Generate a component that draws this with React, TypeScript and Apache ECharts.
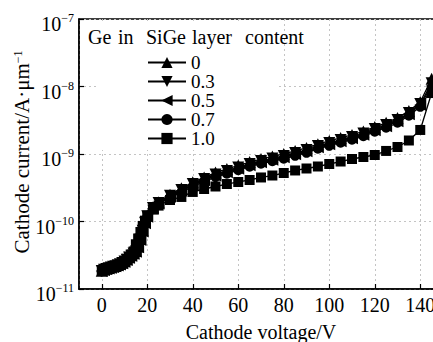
import React, { useEffect, useRef } from 'react';
import * as echarts from 'echarts';

// Cathode voltage sweep (V)
const voltage = [
  0, 1, 2, 3, 4, 5, 6, 7, 8, 9, 10, 11, 12, 13, 14, 15, 16, 17, 18, 19, 20,
  22.5, 25,
  30, 35, 40, 45, 50, 55, 60, 65, 70, 75, 80, 85, 90, 95, 100, 105, 110, 115,
  120, 125, 130, 135, 140, 145,
];

// Cathode current (A/um) for each Ge content in the SiGe layer
const ge00 = [
  1.87e-11, 1.95e-11, 2.0e-11, 2.05e-11, 2.1e-11, 2.15e-11, 2.2e-11, 2.27e-11, 2.35e-11, 2.45e-11,
  2.58e-11, 2.75e-11, 2.95e-11, 3.15e-11, 3.38e-11, 3.65e-11, 4.25e-11, 5.5e-11, 7.4e-11, 9.8e-11,
  1.23e-10, 1.62e-10, 1.93e-10,
  2.5e-10, 3.1e-10, 3.8e-10, 4.5e-10, 5.3e-10, 6.0e-10, 6.75e-10, 7.6e-10, 8.4e-10, 9.2e-10,
  1.0e-9, 1.11e-9, 1.23e-9, 1.4e-9, 1.56e-9, 1.73e-9, 1.92e-9, 2.16e-9, 2.52e-9, 2.9e-9,
  3.42e-9, 4.35e-9, 5.9e-9, 1.3e-8,
];
const ge03 = [
  1.85e-11, 1.93e-11, 1.98e-11, 2.03e-11, 2.08e-11, 2.13e-11, 2.18e-11, 2.24e-11, 2.32e-11, 2.42e-11,
  2.55e-11, 2.72e-11, 2.92e-11, 3.12e-11, 3.35e-11, 3.6e-11, 4.2e-11, 5.4e-11, 7.3e-11, 9.6e-11,
  1.2e-10, 1.58e-10, 1.88e-10,
  2.4e-10, 2.93e-10, 3.59e-10, 4.26e-10, 4.97e-10, 5.6e-10, 6.31e-10, 7.11e-10, 7.88e-10, 8.58e-10,
  9.34e-10, 1.035e-9, 1.146e-9, 1.314e-9, 1.455e-9, 1.612e-9, 1.786e-9, 2.01e-9, 2.35e-9, 2.69e-9,
  3.19e-9, 4.05e-9, 5.5e-9, 1.12e-8,
];
const ge05 = [
  1.84e-11, 1.92e-11, 1.97e-11, 2.02e-11, 2.07e-11, 2.12e-11, 2.17e-11, 2.23e-11, 2.31e-11, 2.4e-11,
  2.53e-11, 2.7e-11, 2.9e-11, 3.1e-11, 3.32e-11, 3.56e-11, 4.15e-11, 5.3e-11, 7.1e-11, 9.4e-11,
  1.18e-10, 1.55e-10, 1.85e-10,
  2.33e-10, 2.82e-10, 3.45e-10, 4.1e-10, 4.77e-10, 5.38e-10, 6.05e-10, 6.82e-10, 7.56e-10, 8.24e-10,
  8.97e-10, 9.94e-10, 1.1e-9, 1.26e-9, 1.4e-9, 1.55e-9, 1.71e-9, 1.93e-9, 2.25e-9, 2.58e-9,
  3.06e-9, 3.89e-9, 5.3e-9, 1.02e-8,
];
const ge07 = [
  1.82e-11, 1.9e-11, 1.95e-11, 2.0e-11, 2.05e-11, 2.1e-11, 2.15e-11, 2.21e-11, 2.29e-11, 2.38e-11,
  2.5e-11, 2.67e-11, 2.87e-11, 3.07e-11, 3.3e-11, 3.54e-11, 4.1e-11, 5.2e-11, 7.0e-11, 9.2e-11,
  1.16e-10, 1.52e-10, 1.82e-10,
  2.28e-10, 2.7e-10, 3.3e-10, 3.9e-10, 4.55e-10, 5.1e-10, 5.75e-10, 6.5e-10, 7.2e-10, 7.8e-10,
  8.5e-10, 9.4e-10, 1.04e-9, 1.2e-9, 1.32e-9, 1.47e-9, 1.63e-9, 1.83e-9, 2.14e-9, 2.45e-9,
  2.9e-9, 3.7e-9, 5.0e-9, 9.2e-9,
];
const ge10 = [
  1.86e-11, 1.94e-11, 2.0e-11, 2.05e-11, 2.1e-11, 2.15e-11, 2.2e-11, 2.26e-11, 2.34e-11, 2.45e-11,
  2.6e-11, 2.8e-11, 3.0e-11, 3.25e-11, 3.6e-11, 4.6e-11, 5.6e-11, 7.0e-11, 8.6e-11, 1.03e-10,
  1.22e-10, 1.5e-10, 1.72e-10,
  2.08e-10, 2.31e-10, 2.74e-10, 3.03e-10, 3.3e-10, 3.59e-10, 3.85e-10, 4.12e-10, 4.49e-10, 4.8e-10,
  5.23e-10, 5.7e-10, 6.1e-10, 6.53e-10, 7.11e-10, 7.74e-10, 8.43e-10, 9.03e-10, 9.66e-10, 1.11e-9,
  1.27e-9, 1.585e-9, 2.27e-9, 8.0e-9,
];

const seriesNames = ['0', '0.3', '0.5', '0.7', '1.0'];
const seriesValues = [ge00, ge03, ge05, ge07, ge10];
const legendTitleWords = ['Ge', 'in', 'SiGe', 'layer', 'content'];

const FONT = '"Liberation Serif", "Times New Roman", Times, serif';

const markers = [
  { symbol: 'triangle', size: 12 },
  { symbol: 'path://M0,0L10,0L5,9Z', size: 12 },
  { symbol: 'path://M0,5L9,0L9,10Z', size: 12 },
  { symbol: 'circle', size: 10 },
  { symbol: 'rect', size: 10 },
];

export default function App() {
  const ref = useRef<HTMLDivElement>(null);

  useEffect(() => {
    if (!ref.current) return;
    const chart = echarts.init(ref.current, undefined, { renderer: 'svg' });

    const titleX = [88, 118, 146, 192, 245];

    chart.setOption({
      animation: false,
      backgroundColor: '#fff',
      textStyle: { fontFamily: FONT, color: '#000' },
      grid: {
        left: 79,
        top: 19,
        width: 364,
        height: 270,
        outerBoundsMode: 'none',
        containLabel: false,
        show: true,
        borderColor: '#000',
        borderWidth: 1.5,
        backgroundColor: 'transparent',
      },
      xAxis: {
        type: 'value',
        min: -10,
        max: 150,
        splitNumber: 8,
        axisLine: { show: true, onZero: false, lineStyle: { color: '#000', width: 1.5 } },
        axisTick: { show: true, inside: true, length: 5, lineStyle: { color: '#000', width: 1.2 } },
        axisLabel: {
          color: '#000',
          fontFamily: FONT,
          fontSize: 20,
          margin: 6,
          showMinLabel: false,
          showMaxLabel: false,
          formatter: (v: number) => (v >= 0 && v <= 140 && v % 20 === 0 ? String(v) : ''),
        },
        splitLine: { show: true, lineStyle: { color: '#c4c4c4', width: 1, type: [2, 3] } },
        name: 'Cathode voltage/V',
        nameLocation: 'middle',
        nameGap: 33,
        nameTextStyle: { fontFamily: FONT, fontSize: 20, color: '#000' },
      },
      yAxis: {
        type: 'log',
        logBase: 10,
        min: 1e-11,
        max: 1e-7,
        axisLine: { show: true, onZero: false, lineStyle: { color: '#000', width: 1.5 } },
        axisTick: { show: true, inside: true, length: 5, lineStyle: { color: '#000', width: 1.2 } },
        minorTick: { show: false },
        axisLabel: {
          color: '#000',
          margin: 5,
          padding: [8, 0, 0, 0],
          formatter: (v: number) => {
            const e = Math.round(Math.log10(v));
            return `{b|10}{s|${e < 0 ? '\u2212' : ''}${Math.abs(e)}}`;
          },
          rich: {
            b: { fontFamily: FONT, fontSize: 20, lineHeight: 22, verticalAlign: 'bottom', color: '#000' },
            s: { fontFamily: FONT, fontSize: 12, lineHeight: 10, verticalAlign: 'top', color: '#000' },
          },
        },
        splitLine: { show: true, lineStyle: { color: '#c4c4c4', width: 1, type: [2, 3] } },
      },
      legend: {
        show: true,
        left: 147,
        top: 53,
        orient: 'vertical',
        padding: 0,
        itemWidth: 38,
        itemHeight: 14,
        itemGap: 0,
        selectedMode: false,
        data: seriesNames,
        lineStyle: { width: 2, color: '#000' },
        textStyle: { fontFamily: FONT, fontSize: 19, color: '#000' },
      },
      graphic: [
        {
          type: 'rect',
          z: 1,
          shape: { x: 98, y: 21, width: 180, height: 129 },
          style: { fill: '#fff' },
        },
        ...legendTitleWords.map((w, i) => ({
          type: 'text',
          z: 5,
          x: titleX[i],
          y: 37,
          style: {
            text: w,
            fontFamily: FONT,
            fontSize: 20,
            fill: '#000',
            align: 'left',
            verticalAlign: 'middle',
          },
        })),
        {
          type: 'text',
          z: 5,
          x: 22,
          y: 152,
          rotation: Math.PI / 2,
          style: {
            text: '{a|Cathode current/A\u00b7\u03bcm}{s|\u22121}',
            rich: {
              a: { fontFamily: FONT, fontSize: 21, lineHeight: 21, verticalAlign: 'bottom', fill: '#000' },
              s: { fontFamily: FONT, fontSize: 12, lineHeight: 10, verticalAlign: 'top', fill: '#000' },
            },
            align: 'center',
            verticalAlign: 'middle',
            fill: '#000',
          },
        },
      ],
      series: seriesNames.map((name, k) => ({
        name,
        type: 'line',
        data: voltage.map((v, i) => [v, seriesValues[k][i]]),
        symbol: markers[k].symbol,
        symbolSize: markers[k].size,
        showSymbol: true,
        itemStyle: { color: '#000', borderWidth: 0 },
        lineStyle: { color: '#000', width: 1.3 },
        z: 2,
      })),
    });

    return () => chart.dispose();
  }, []);

  return (
    <div
      style={{
        position: 'fixed',
        left: 0,
        top: 0,
        width: 433,
        height: 342,
        overflow: 'hidden',
        background: '#fff',
      }}
    >
      <div ref={ref} style={{ width: 470, height: 342 }} />
    </div>
  );
}
